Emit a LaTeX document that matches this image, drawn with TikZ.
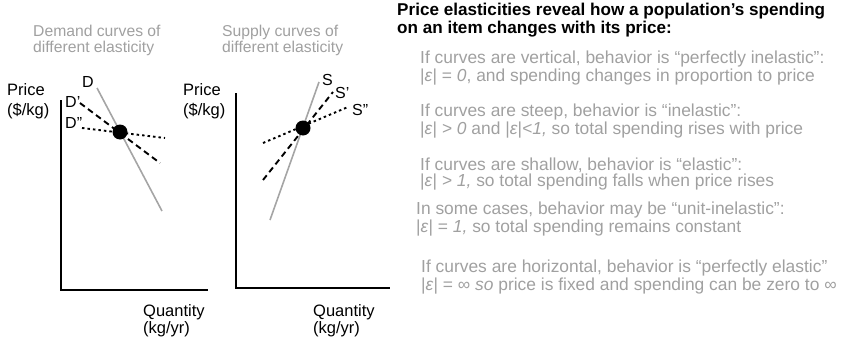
\documentclass[tikz,border=0pt]{standalone}
\usepackage{fontspec}
\setmainfont{Liberation Sans}
\definecolor{txtgray}{RGB}{160,160,160}
\definecolor{curvegray}{RGB}{165,165,165}
\begin{document}
\begin{tikzpicture}[x=1pt,y=-1pt,
  axis/.style={line width=2.4pt},
  curve/.style={curvegray,line width=1.6pt},
  dashcurve/.style={line width=1.9pt,dash pattern=on 6pt off 4pt},
  dotcurve/.style={line width=1.9pt,dash pattern=on 2.5pt off 3pt},
  eqdot/.style={fill=black,circle,minimum size=15pt,inner sep=0pt},
  title/.style={txtgray,font=\fontsize{15.7}{15.5}\selectfont,align=left,anchor=base west,inner sep=0pt},
  axlabel/.style={font=\fontsize{16.5}{20}\selectfont,align=left,anchor=base west,inner sep=0pt},
  qlabel/.style={font=\fontsize{16.5}{16.5}\selectfont,align=left,anchor=base west,inner sep=0pt},
  curvelabel/.style={font=\fontsize{16}{16}\selectfont,anchor=base west,inner sep=0pt},
  heading/.style={font=\bfseries\fontsize{17.1}{15.5}\selectfont,align=left,anchor=base west,inner sep=0pt},
  note/.style={txtgray,font=\fontsize{17.4}{16}\selectfont,align=left,anchor=base west,inner sep=0pt},
]
\useasboundingbox (0,0) rectangle (842,340);
% ---------- demand panel ----------
\node[title] (dtitle) at (33,52) {Demand curves of\\different elasticity};
\node[axlabel] (dprice) at (7,115) {Price\\(\$/kg)};
\node[qlabel] (dqty) at (143,333) {Quantity\\(kg/yr)};
\coordinate (dY) at (61,100);
\coordinate (dO) at (61,290);
\coordinate (dX) at (208,290);
\draw[axis] (dY) -- (dO) -- (dX);
\coordinate (dA1) at (97,88);   \coordinate (dA2) at (162,211);
\coordinate (dB1) at (80,103);  \coordinate (dB2) at (160,163);
\coordinate (dC1) at (82,128);  \coordinate (dC2) at (165,138);
\draw[curve] (dA1) -- (dA2);
\draw[dashcurve] (dB1) -- (dB2);
\draw[dotcurve] (dC1) -- (dC2);
\node[eqdot] (dE) at (120,132) {};
\node[curvelabel] (dl1) at (82,87) {D};
\node[curvelabel] (dl2) at (65,107) {D’};
\node[curvelabel] (dl3) at (65,128) {D”};
% ---------- supply panel ----------
\node[title] (stitle) at (222,52) {Supply curves of\\different elasticity};
\node[axlabel] (sprice) at (183,115) {Price\\(\$/kg)};
\node[qlabel] (sqty) at (313,333) {Quantity\\(kg/yr)};
\coordinate (sY) at (236,93);
\coordinate (sO) at (236,288);
\coordinate (sX) at (390,288);
\draw[axis] (sY) -- (sO) -- (sX);
\coordinate (sA1) at (270,220); \coordinate (sA2) at (319,82);
\coordinate (sB1) at (263,180); \coordinate (sB2) at (333,92);
\coordinate (sC1) at (263,143); \coordinate (sC2) at (348,107);
\draw[curve] (sA1) -- (sA2);
\draw[dashcurve] (sB1) -- (sB2);
\draw[dotcurve] (sC1) -- (sC2);
\node[eqdot] (sE) at (303,128) {};
\node[curvelabel] (sl1) at (322,85) {S};
\node[curvelabel] (sl2) at (335,98) {S’};
\node[curvelabel] (sl3) at (352,115) {S”};
% ---------- text ----------
\node[heading] (head) at (397,33) {Price elasticities reveal how a population’s spending\\on an item changes with its price:};
\node[note] (n1) at (420,81) {If curves are vertical, behavior is “perfectly inelastic”:\\|\textit{ε}| = \textit{0}, and spending changes in proportion to price};
\node[note] (n2) at (420,134) {If curves are steep, behavior is “inelastic”:\\|\textit{ε}| \textit{> 0} and |\textit{ε}|\textit{<1,} so total spending rises with price};
\node[note] (n3) at (420,186) {If curves are shallow, behavior is “elastic”:\\|\textit{ε}| \textit{> 1,} so total spending falls when price rises};
\node[note] (n4) at (416,232) {In some cases, behavior may be “unit-inelastic”:\\|\textit{ε}| = \textit{1,} so total spending remains constant};
\node[note] (n5) at (421,290) {If curves are horizontal, behavior is “perfectly elastic”\\|\textit{ε}| = ∞ \textit{so} price is fixed and spending can be zero to ∞};
\end{tikzpicture}
\end{document}
